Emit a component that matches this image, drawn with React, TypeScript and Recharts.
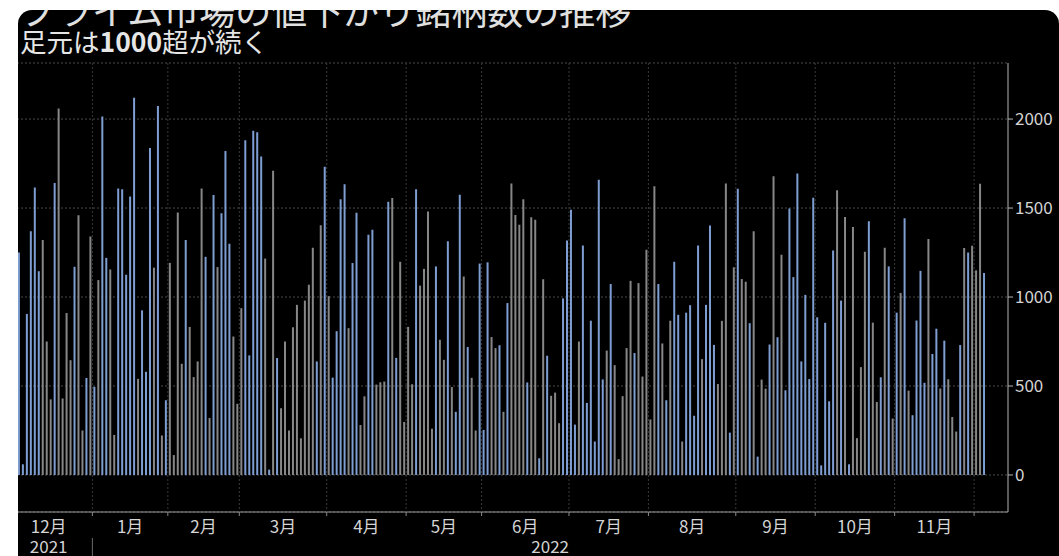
import React from 'react';
import { BarChart, Bar, Cell, XAxis, YAxis, CartesianGrid } from 'recharts';

// month labels for the x axis (first month is only partly visible)
const monthNames = ['12月', '1月', '2月', '3月', '4月', '5月', '6月', '7月', '8月', '9月', '10月', '11月', '12月'];
const yearLabels = ['2021', '2022'];

// daily count of declining stocks, one array per month (null = day cut off by the frame)
const dec2021 = [null, null, null, 1250, 60, 905, 1370, 1615, 1145, 1320, 750, 425, 1640, 2060, 430, 910, 645, 1170, 1460, 250, 545, 1340];
const jan2022 = [495, 1095, 2015, 1220, 1155, 225, 1610, 1605, 1125, 1565, 2120, 540, 925, 580, 1838, 1165, 2073, 222, 420];
const feb2022 = [1192, 112, 1475, 625, 1320, 832, 550, 638, 1610, 1226, 320, 1573, 1168, 1471, 1820, 1300, 778, 400];
const mar2022 = [937, 1881, 672, 1935, 1926, 1790, 1216, 30, 1710, 657, 375, 750, 250, 830, 956, 206, 980, 1069, 1277, 638, 1403, 1732];
const apr2022 = [1005, 547, 808, 1549, 1633, 825, 1191, 1473, 281, 442, 1350, 1378, 508, 521, 525, 1536, 1556, 658, 1198, 298];
const may2022 = [832, 510, 1605, 1064, 1158, 1481, 260, 1172, 760, 647, 1314, 494, 355, 1575, 1115, 719, 546, 250, 1188];
const jun2022 = [253, 1195, 775, 713, 729, 355, 966, 1638, 1461, 1406, 1549, 520, 1448, 1434, 94, 1100, 670, 445, 463, 291, 992, 1318];
const jul2022 = [1490, 283, 750, 1289, 405, 867, 188, 1659, 537, 699, 1073, 617, 89, 443, 713, 1091, 685, 1078, 553, 1265];
const aug2022 = [312, 1622, 1073, 739, 420, 867, 1198, 900, 188, 912, 954, 333, 1289, 651, 956, 1402, 731, 511, 866, 1638, 238, 1167];
const sep2022 = [1609, 1101, 1086, 853, 1370, 103, 536, 485, 733, 1678, 774, 1238, 476, 1498, 1112, 1694, 638, 1012, 539, 1558];
const oct2022 = [886, 54, 855, 414, 1262, 1600, 980, 1450, 60, 1394, 207, 606, 1255, 1426, 856, 410, 549, 1277, 1172, 317];
const nov2022 = [912, 1023, 1442, 474, 336, 868, 1147, 518, 1326, 680, 822, 486, 755, 538, 326, 244, 730, 1276, 1250, 1288];
const dec2022 = [1150, 1636, 1135];

const monthValues = [dec2021, jan2022, feb2022, mar2022, apr2022, may2022, jun2022, jul2022, aug2022, sep2022, oct2022, nov2022, dec2022];

// bar group per day: B = blue, G = grey
const monthGroups = [
  '---BBBBBBGGGBGGGGBGGBG',
  'BGBBGGBBBBBGBBBGBGB',
  'GGGGBGGGGBGBGBBBGG',
  'GBBBBBGBGBGGGGGGGGGBGB',
  'GBBBBGBBGGBBGGGBGBGG',
  'GGBGGGGBGGBGBBGBGGB',
  'BBGGBGBGGGGBGGBGBGGGBB',
  'BBGBBBBBBGBGGGGGBGGG',
  'GGBGBGBBGBBBBGBBBGGGBG',
  'BGGBGBGGBGBGBBBBBBBB',
  'BBBBBGBGBGGGGBGGBGBG',
  'BGBGBBBBGBBGBGGGBGBG',
  'GGB',
];

const yTicks = [0, 500, 1000, 1500, 2000];

const data = monthValues.flatMap((vals, m) =>
  vals.map((v, d) => ({ key: `${m}-${d}`, v, g: monthGroups[m][d] }))
);
const monthTicks = monthValues.map((_, m) => `${m}-0`);

const FONT = '"Noto Sans CJK JP", "Noto Sans", sans-serif';
const CHART_W = 1054;
const CHART_H = 546;
const TOP = 53;
const AXIS_H = 44;
const Y_W = 51;
const PAD_R = 22;
const PLOT_RIGHT = CHART_W - Y_W;
const PLOT_H = CHART_H - TOP - AXIS_H;
const BAND = (PLOT_RIGHT - PAD_R) / data.length;

const MonthTick = (props: any) => {
  const { x, y, payload } = props;
  const m = Number(String(payload.value).split('-')[0]);
  const left = x - BAND / 2;
  const span = monthValues[m].length * BAND;
  const last = m === monthValues.length - 1;
  return (
    <g>
      {m > 0 && <line x1={left} x2={left} y1={y - PLOT_H} y2={y} stroke="#3a3a3a" strokeDasharray="2 2" />}
      {m > 0 && <line x1={left} x2={left} y1={y} y2={y + 4} stroke="#8a8a8a" />}
      {!last && (
        <text x={left + span / 2} y={y + 21} textAnchor="middle" fill="#d4d4d4" fontSize={17} fontFamily={FONT}>
          {monthNames[m]}
        </text>
      )}
      {m === 0 && (
        <text x={left + span / 2} y={y + 41} textAnchor="middle" fill="#d4d4d4" fontSize={17} fontFamily={FONT}>
          {yearLabels[0]}
        </text>
      )}
      {m === 1 && (
        <g>
          <line x1={left} x2={left} y1={y + 26} y2={y + 46} stroke="#6a6a6a" />
          <text x={(left + PLOT_RIGHT) / 2} y={y + 41} textAnchor="middle" fill="#d4d4d4" fontSize={17} fontFamily={FONT}>
            {yearLabels[1]}
          </text>
        </g>
      )}
    </g>
  );
};

export default function App() {
  return (
    <div
      style={{
        position: 'absolute',
        left: 18,
        top: 10,
        width: 1041,
        height: 546,
        background: '#000',
        borderTopLeftRadius: 14,
        borderTopRightRadius: 14,
        overflow: 'hidden',
        fontFamily: FONT,
      }}
    >
      <svg width={1041} height={60} style={{ position: 'absolute', left: 0, top: 0 }}>
        <text x={2} y={15} fill="#e0e0e0" fontSize={36} fontFamily={FONT}>
          プライム市場の値下がり銘柄数の推移
        </text>
        <text x={2} y={41.5} fill="#e6e6e6" fontSize={26.5} fontFamily={FONT}>
          足元は<tspan fontWeight="bold">1000</tspan>超が続く
        </text>
      </svg>
      <div style={{ position: 'absolute', left: -13, top: 0 }}>
        <BarChart
          width={CHART_W}
          height={CHART_H}
          data={data}
          margin={{ top: TOP, right: 0, bottom: 0, left: 0 }}
          barSize={2}
        >
          <CartesianGrid vertical={false} stroke="#4a4a4a" strokeDasharray="2 2" />
          <XAxis
            dataKey="key"
            ticks={monthTicks}
            interval={0}
            height={AXIS_H}
            padding={{ left: 0, right: PAD_R }}
            tickLine={false}
            tickSize={0}
            tickMargin={0}
            axisLine={{ stroke: '#9a9a9a' }}
            tick={<MonthTick />}
          />
          <YAxis
            orientation="right"
            width={Y_W}
            domain={[-208, 2315]}
            ticks={yTicks}
            allowDataOverflow
            axisLine={{ stroke: '#b5b5b5' }}
            tickLine={{ stroke: '#b5b5b5' }}
            tickSize={5}
            tickMargin={2}
            tick={{ fill: '#d4d4d4', fontSize: 17, fontFamily: FONT }}
          />
          <Bar dataKey="v" isAnimationActive={false}>
            {data.map((d) => (
              <Cell key={d.key} fill={d.g === 'B' ? '#7e9ed2' : '#878787'} />
            ))}
          </Bar>
        </BarChart>
      </div>
    </div>
  );
}
